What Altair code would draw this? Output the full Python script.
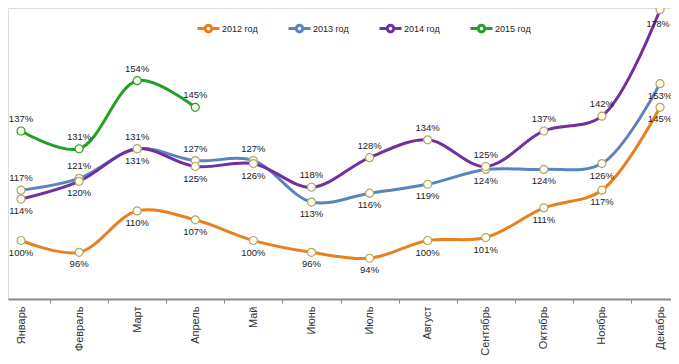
import json
import altair as alt
import pandas as pd

months = ["Январь", "Февраль", "Март", "Апрель", "Май", "Июнь", "Июль",
          "Август", "Сентябрь", "Октябрь", "Ноябрь", "Декабрь"]
series_names = ["2012 год", "2013 год", "2014 год", "2015 год"]
v2012 = [100, 96, 110, 107, 100, 96, 94, 100, 101, 111, 117, 145]
v2013 = [117, 121, 131, 127, 127, 113, 116, 119, 124, 124, 126, 153]
v2014 = [114, 120, 131, 125, 126, 118, 128, 134, 125, 137, 142, 178]
v2015 = [137, 131, 154, 145]
colors = ["#E8801E", "#5A84BE", "#7030A0", "#22A022"]

rows = []
for name, vals in zip(series_names, [v2012, v2013, v2014, v2015]):
    for i, v in enumerate(vals):
        if name == "2012 год":
            pos = "below"
        elif name == "2015 год":
            pos = "above"
        elif i == len(months) - 1:
            pos = "right" if name == "2014 год" else "below"
        else:
            other = v2014[i] if name == "2013 год" else v2013[i]
            if name == "2013 год":
                pos = "above" if v >= other else "below"
            else:
                pos = "above" if v > other else "below"
        rows.append({"idx": i, "series": name, "value": v,
                     "label": f"{v}%", "pos": pos})
df = pd.DataFrame(rows)

ticks = [i * 0.5 for i in range(0, 23)]
label_expr = ("datum.value % 1 ? '' : " + json.dumps(months, ensure_ascii=False)
              + "[datum.value]")

x_enc = alt.X(
    "idx:Q",
    scale=alt.Scale(domain=[-0.224, 11.189], nice=False, zero=False),
    axis=alt.Axis(
        values=ticks,
        labelExpr=label_expr,
        labelAngle=-90,
        labelFontSize=11,
        labelFont="Liberation Sans",
        labelColor="#333333",
        labelPadding=3,
        labelOverlap=False,
        tickSize=4,
        tickColor="#888888",
        tickOpacity={"condition": {"test": "datum.value % 1 !== 0", "value": 1}, "value": 0},
        domainColor="#888888",
        domainWidth=2,
        grid=False,
        title=None,
    ),
)
y_enc = alt.Y(
    "value:Q",
    scale=alt.Scale(domain=[80.24, 178.55], nice=False, zero=False),
    axis=None,
)

base = alt.Chart(df).encode(x=x_enc, y=y_enc)

legend_symbol = ("M-1,0H-0.3M0.3,0H1M0.3,0A0.3,0.3,0,1,1,-0.3,0"
                 "A0.3,0.3,0,1,1,0.3,0Z")

lines = base.mark_line(interpolate="catmull-rom").encode(
    color=alt.Color(
        "series:N",
        scale=alt.Scale(domain=series_names, range=colors),
        legend=alt.Legend(
            orient="none",
            legendX=188,
            legendY=8,
            direction="horizontal",
            title=None,
            symbolType=legend_symbol,
            symbolSize=484,
            symbolStrokeWidth=2.5,
            symbolFillColor="white",
            labelFontSize=9,
            labelFont="Liberation Sans",
            labelColor="#222222",
            labelOffset=1,
            columnPadding=24,
        ),
    ),
    strokeWidth=alt.StrokeWidth(
        "series:N",
        scale=alt.Scale(domain=series_names, range=[3, 3, 3, 2]),
        legend=None,
    ),
    detail="series:N",
)

points = base.mark_point(
    shape="circle", filled=True, fill="#FFFFF0", size=64, strokeWidth=1.2, opacity=1
).encode(
    stroke=alt.Stroke(
        "series:N",
        scale=alt.Scale(domain=series_names,
                        range=["#B0A56A", "#B0A56A", "#B0A56A", "#22A022"]),
        legend=None,
    ),
    detail="series:N",
)

text_props = dict(fontSize=9.5, font="Liberation Sans", color="#222222")
above = base.mark_text(dy=-12, **text_props).encode(text="label:N").transform_filter(
    alt.datum.pos == "above")
below = base.mark_text(dy=12, **text_props).encode(text="label:N").transform_filter(
    alt.datum.pos == "below")
right = base.mark_text(dy=14, dx=-2, fontSize=9, font="Liberation Sans",
                       color="#222222").encode(
    text="label:N").transform_filter(alt.datum.pos == "right")

chart = alt.layer(lines, points, above, below, right).properties(
    width=663,
    height=291,
    autosize=alt.AutoSizeParams(type="none"),
    padding={"left": 0, "top": 0, "right": 0, "bottom": 57},
).configure_view(stroke=None).configure(background="white")

chart.save("out.html", embed_options={"renderer": "svg", "actions": False})
